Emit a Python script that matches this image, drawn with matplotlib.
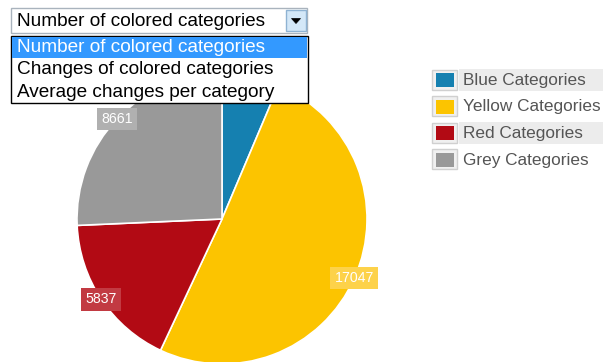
import matplotlib
matplotlib.use("Agg")
import matplotlib.pyplot as plt
from matplotlib.patches import Rectangle, Polygon
import numpy as np

W, H = 603, 362

categories = ["Blue Categories", "Yellow Categories", "Red Categories", "Grey Categories"]
values = [2150, 17047, 5837, 8661]
colors = ["#1580b0", "#fcc400", "#b20a14", "#999999"]
label_colors = ["#4f9ec6", "#fdd24a", "#c23a42", "#b0b0b0"]
# the blue value sits under the open dropdown in the original, so it is not labelled
labelled = [False, True, True, True]

options = ["Number of colored categories", "Changes of colored categories",
           "Average changes per category"]
selected = options[0]

plt.rcParams['font.family'] = ['Liberation Sans', 'DejaVu Sans']


def fx(x):
    return x / W


def fy(y):
    return 1 - y / H


fig = plt.figure(figsize=(W / 100, H / 100), dpi=100)
fig.patch.set_facecolor("white")

# pie: centre (222, 219), radius 145 px
cx, cy, r = 222, 219, 145
ax = fig.add_axes([fx(cx - r), fy(cy + r), 2 * r / W, 2 * r / H])
wedges, _ = ax.pie(values, colors=colors, startangle=90, counterclock=False,
                   wedgeprops=dict(edgecolor="white", linewidth=1.2))
ax.set_xlim(-1, 1)
ax.set_ylim(-1, 1)
ax.set_aspect("equal")
ax.axis("off")

for w, v, lc, show in zip(wedges, values, label_colors, labelled):
    if not show:
        continue
    mid = np.deg2rad((w.theta1 + w.theta2) / 2)
    ax.text(np.cos(mid), np.sin(mid), str(v), ha="center", va="center",
            fontsize=10.2, color="white", zorder=4,
            bbox=dict(boxstyle="square,pad=0.3", facecolor=lc, edgecolor="none"))

# dropdown select box
Z = 10
fig.add_artist(Rectangle((fx(11), fy(33)), fx(296), 25 / H, transform=fig.transFigure,
                         facecolor="white", edgecolor="#a9b3bd", linewidth=1, zorder=Z))
fig.add_artist(Rectangle((fx(286), fy(31)), fx(20), 21 / H, transform=fig.transFigure,
                         facecolor="#d4e8f8", edgecolor="#8fb3d3", linewidth=1, zorder=Z + 1))
fig.add_artist(Polygon([(fx(291.5), fy(18.5)), (fx(300.5), fy(18.5)), (fx(296), fy(23.5))],
                       closed=True, transform=fig.transFigure, facecolor="black",
                       edgecolor="black", linewidth=0.5, zorder=Z + 2))
fig.text(fx(17), fy(21), selected, fontsize=13.7, color="black", va="center",
         ha="left", zorder=Z + 2)

# dropdown list
fig.add_artist(Rectangle((fx(11), fy(103)), fx(297), 67 / H, transform=fig.transFigure,
                         facecolor="white", edgecolor="black", linewidth=1, zorder=Z))
fig.add_artist(Rectangle((fx(12), fy(58)), fx(295), 21 / H, transform=fig.transFigure,
                         facecolor="#3399ff", edgecolor="none", zorder=Z + 1))
for i, opt in enumerate(options):
    fig.text(fx(17), fy(47.5 + i * 22.5), opt, fontsize=13.7,
             color="white" if opt == selected else "black",
             va="center", ha="left", zorder=Z + 2)

# legend
row_y = [80, 106.5, 133, 159.5]
for i, (name, c) in enumerate(zip(categories, colors)):
    y = row_y[i]
    if i % 2 == 0:
        fig.add_artist(Rectangle((fx(459), fy(y + 11)), fx(144), 22 / H,
                                 transform=fig.transFigure, facecolor="#ececec",
                                 edgecolor="none", zorder=1))
    fig.add_artist(Rectangle((fx(432), fy(y + 10)), fx(25), 20 / H,
                             transform=fig.transFigure, facecolor="#f0f0f0",
                             edgecolor="#d0d0d0", linewidth=1, zorder=2))
    fig.add_artist(Rectangle((fx(435.5), fy(y + 7)), fx(18), 14 / H,
                             transform=fig.transFigure, facecolor=c,
                             edgecolor="none", zorder=3))
    fig.text(fx(463), fy(y + 0.5), name, fontsize=12.4, color="#555555",
             va="center", ha="left", zorder=3)

fig.savefig("out.png", dpi=100)
